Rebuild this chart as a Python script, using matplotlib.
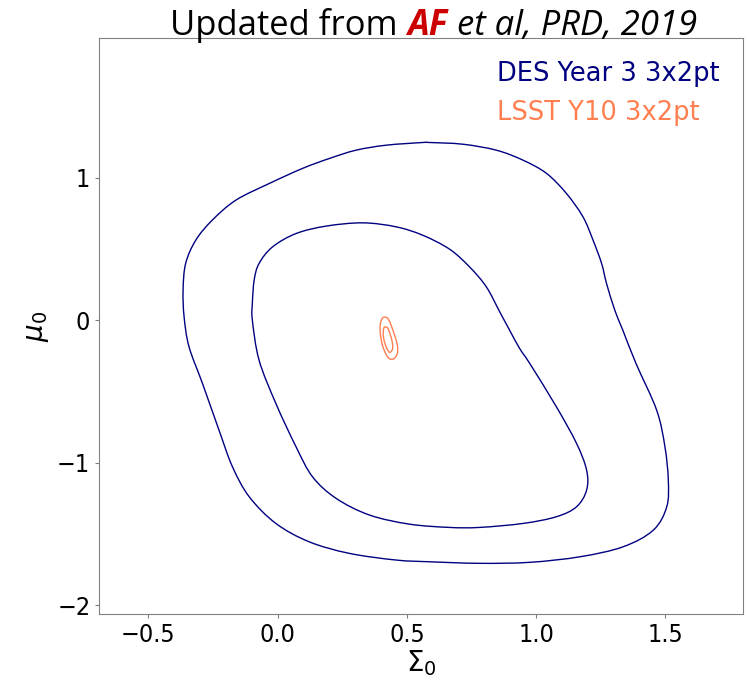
"""Sigma0 / mu0 constraints: DES Y3 3x2pt vs LSST Y10 3x2pt forecast."""
import matplotlib
matplotlib.use("Agg")
import matplotlib.pyplot as plt
import numpy as np
from matplotlib.lines import Line2D
from matplotlib.patches import PathPatch
from matplotlib.path import Path

# DES Year 3 3x2pt, outer (95%) contour
des_outer_sigma = [
    0.561, 0.587, 0.716, 0.846, 0.949, 1.040, 1.117, 1.181, 1.220, 1.253,
    1.272, 1.304, 1.335, 1.386, 1.466, 1.498, 1.511, 1.505, 1.453,
    1.336, 1.169, 0.975, 0.781, 0.587, 0.458, 0.277, 0.122, -0.007, -0.110,
    -0.175, -0.227, -0.291, -0.343, -0.362, -0.366, -0.356, -0.317, -0.253, -0.162,
    -0.033, 0.096, 0.200, 0.303, 0.419,
]
des_outer_mu = [
    1.247, 1.247, 1.235, 1.193, 1.123, 1.030, 0.889, 0.725, 0.561, 0.398,
    0.258, 0.070, -0.070, -0.304, -0.632, -0.889, -1.123, -1.310, -1.474,
    -1.591, -1.661, -1.700, -1.707, -1.696, -1.684, -1.637, -1.556, -1.427, -1.240,
    -1.029, -0.772, -0.444, -0.187, 0.023, 0.211, 0.398, 0.561, 0.702, 0.842,
    0.959, 1.065, 1.135, 1.193, 1.228,
]

# DES Year 3 3x2pt, inner (68%) contour
des_inner_sigma = [
    0.329, 0.458, 0.561, 0.665, 0.742, 0.807, 0.859, 0.897, 0.936, 0.975,
    1.078, 1.156, 1.195, 1.195, 1.156, 1.078, 0.949, 0.781, 0.665, 0.510,
    0.355, 0.226, 0.135, 0.071, -0.007, -0.072, -0.098, -0.098, -0.091, -0.072,
    -0.020, 0.071, 0.187,
]
des_inner_mu = [
    0.683, 0.655, 0.596, 0.498, 0.374, 0.234, 0.058, -0.070, -0.199, -0.304,
    -0.608, -0.865, -1.053, -1.193, -1.310, -1.380, -1.427, -1.455, -1.455, -1.432,
    -1.368, -1.251, -1.100, -0.889, -0.585, -0.281, 0.000, 0.117, 0.281, 0.398,
    0.514, 0.608, 0.660,
]

# LSST Y10 3x2pt forecast contours
lsst_outer_sigma = [0.417, 0.428, 0.440, 0.452, 0.463, 0.463, 0.452, 0.436, 0.421,
                    0.405, 0.397, 0.397, 0.405]
lsst_outer_mu = [0.021, 0.007, -0.042, -0.105, -0.175, -0.232, -0.267, -0.274, -0.246,
                 -0.175, -0.091, -0.028, 0.014]
lsst_inner_sigma = [0.421, 0.428, 0.436, 0.444, 0.444, 0.436, 0.428, 0.417, 0.409,
                    0.409, 0.413]
lsst_inner_mu = [-0.049, -0.063, -0.105, -0.161, -0.204, -0.225, -0.218, -0.175, -0.119,
                 -0.070, -0.049]

DES_COLOR = "navy"
LSST_COLOR = "coral"


def closed_curve(xs, ys):
    # closed Catmull-Rom curve through the points, as cubic Bezier path segments
    p = np.column_stack([xs, ys])
    n = len(p)
    verts = [p[0]]
    codes = [Path.MOVETO]
    for i in range(n):
        p0, p1, p2, p3 = p[i - 1], p[i], p[(i + 1) % n], p[(i + 2) % n]
        verts += [p1 + (p2 - p0) / 6, p2 - (p3 - p1) / 6, p2]
        codes += [Path.CURVE4] * 3
    return Path(verts, codes)


def add_contour(ax, xs, ys, color):
    ax.add_patch(PathPatch(closed_curve(xs, ys), fill=False, edgecolor=color, lw=1.0))


fig = plt.figure(figsize=(7.49, 6.8), dpi=100)
ax = fig.add_axes([0.1326, 0.097, 0.8594, 0.847])

add_contour(ax, des_outer_sigma, des_outer_mu, DES_COLOR)
add_contour(ax, des_inner_sigma, des_inner_mu, DES_COLOR)
add_contour(ax, lsst_outer_sigma, lsst_outer_mu, LSST_COLOR)
add_contour(ax, lsst_inner_sigma, lsst_inner_mu, LSST_COLOR)

ax.set_xlim(-0.69, 1.80)
ax.set_ylim(-2.063, 1.98)
ax.set_xticks([-0.5, 0.0, 0.5, 1.0, 1.5])
ax.set_yticks([-2, -1, 0, 1])

for s in ax.spines.values():
    s.set_color("0.5")
ax.tick_params(colors="0.5", labelcolor="black", labelsize=18, length=3)
for lab in ax.get_xticklabels() + ax.get_yticklabels():
    lab.set_fontstretch("condensed")

ax.set_xlabel(r"$\Sigma_0$", fontsize=20, labelpad=1)
ax.set_ylabel(r"$\mu_0$", fontsize=20, labelpad=4)

handles = [Line2D([], [], color=DES_COLOR), Line2D([], [], color=LSST_COLOR)]
leg = ax.legend(handles, ["DES Year 3 3x2pt", "LSST Y10 3x2pt"], loc="upper right",
                frameon=False, fontsize=18.5, handlelength=0, handletextpad=0,
                labelcolor="linecolor", borderaxespad=0.5, labelspacing=0.5)
for h in leg.legend_handles:
    h.set_visible(False)

# title in three pieces: plain, red bold-italic "AF", italic rest
pieces = [
    ("Updated from ", dict(color="black")),
    ("AF", dict(color="#cc0000", style="italic", weight="bold")),
    (" et al, PRD, 2019", dict(color="black", style="italic")),
]
target_w, left_px, base_y = 527, 170, 0.948
renderer = fig.canvas.get_renderer()
size = 24
texts = [fig.text(0, base_y, s, family="Open Sans", fontsize=size, va="baseline", **kw)
         for s, kw in pieces]
widths = [t.get_window_extent(renderer).width for t in texts]
scale = target_w / sum(widths)
x = left_px
for t, w in zip(texts, widths):
    t.set_fontsize(size * scale)
    t.set_x(x / fig.bbox.width)
    x += w * scale

fig.savefig("out.png", dpi=100)
